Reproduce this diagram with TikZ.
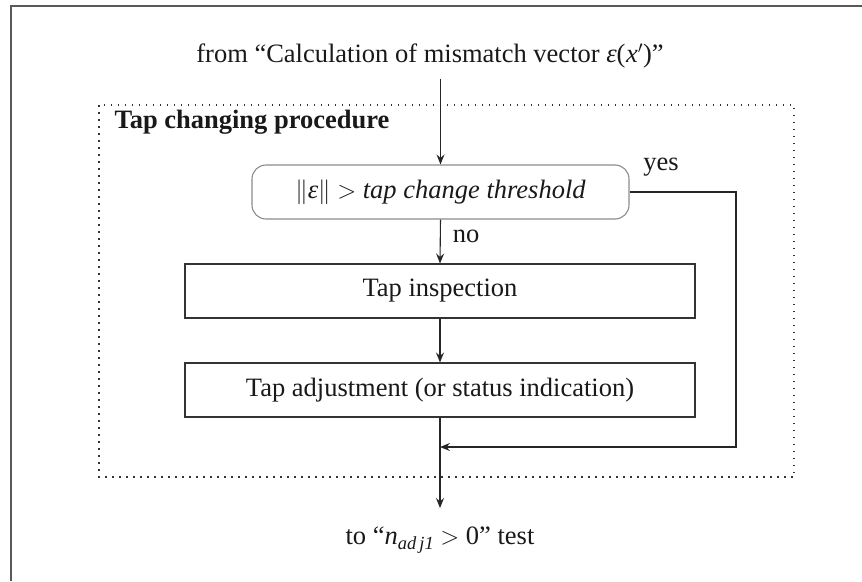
\documentclass[tikz,border=0pt]{standalone}
\usepackage{fontspec}
\setmainfont{Liberation Serif}
\usetikzlibrary{arrows.meta}
\begin{document}
\begin{tikzpicture}[x=1pt,y=-1pt,
  every node/.style={font=\fontsize{26.5}{31}\selectfont, text=black!90},
  flow/.style={draw=black!85, line width=1.1pt},
  arr/.style={flow, -{Stealth[length=10pt,width=8pt,inset=3.5pt]}},
  procbox/.style={draw=black!80, line width=1.1pt, minimum width=510pt,
    minimum height=54pt, inner sep=0pt},
  testbox/.style={draw=black!45, line width=1.1pt, rounded corners=14pt,
    minimum width=377pt, minimum height=54pt, inner sep=0pt},
  dotbox/.style={draw=black!80, line width=1.5pt, dash pattern=on 1.5pt off 5.5pt},
  framestyle/.style={draw=black!65, line width=1.3pt}]
\useasboundingbox (0,0) rectangle (862,581);

% outer frame (left and top edges)
\draw[framestyle] (11,581) -- (11,6) -- (862,6);

% incoming text
\node (src) at (430,56) {from “Calculation of mismatch vector {\itshape ε}(\kern0.5pt{\itshape x}$'$)”};

% procedure frame
\draw[dotbox] (99,105) rectangle (794,477);
\node[anchor=base west, font=\fontsize{26.5}{31}\selectfont\bfseries] (title) at (111,128) {Tap changing procedure};

% blocks
\node[testbox] (test) at (440.5,192) {$\|${\itshape ε}$\|$ $>$ {\itshape tap change threshold}};
\node[procbox] (insp) at (440,291) {Tap inspection};
\node[procbox] (adj) at (440,390) {Tap adjustment (or status indication)};

% branch labels
\node (yes) at (661,167) {yes};
\node (no) at (466,236) {no};

% outgoing text
\node (dst) at (440,540) {to “{\itshape n}\raisebox{-5.5pt}{\fontsize{18.5}{22}\selectfont\itshape ad\,j1} $>$ 0” test};

% routing points
\coordinate (yesR) at (736,192);
\coordinate (yesB) at (736,447);
\coordinate (tip) at (441,508);

% connectors
\draw[arr] ([yshift=-7pt]src.south -| test.north) -- (test.north);
\draw[arr] (test.south) -- (insp.north);
\draw[arr] (insp.south) -- (adj.south |- adj.north);
\draw[arr] (test.east) -- (yesR) -- (yesB) -- (adj.south |- yesB);
\draw[arr] (adj.south) -- (adj.south |- tip);
\end{tikzpicture}
\end{document}
